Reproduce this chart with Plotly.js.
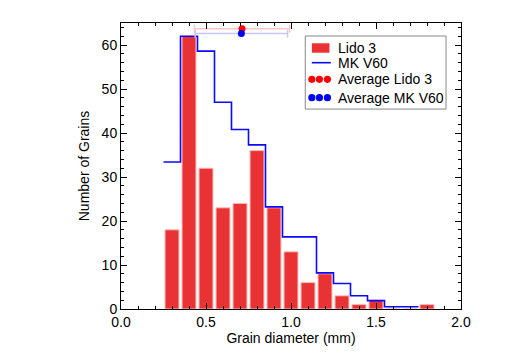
<!DOCTYPE html>
<html>
<head>
<meta charset="utf-8">
<script src="https://cdn.plot.ly/plotly-3.0.1.min.js"></script>
<style>html,body{margin:0;padding:0;background:#fff;}#chart{width:515px;height:359px;}</style>
</head>
<body>
<div id="chart"></div>
<script>
// Lido 3 histogram (bar centres, counts)
const lidoCenters = [0.3, 0.4, 0.5, 0.6, 0.7, 0.8, 0.9, 1.0, 1.1, 1.2, 1.3, 1.4, 1.5, 1.6, 1.7, 1.8];
const lidoCounts  = [18, 62, 32, 23, 24, 36, 23, 13, 6, 8, 3, 1, 2, 0, 0, 1];

// MK V60 step histogram (bin left edges, counts); last edge closes the step
const mkEdges  = [0.25, 0.35, 0.45, 0.55, 0.65, 0.75, 0.85, 0.95, 1.05, 1.15, 1.25, 1.35, 1.45, 1.55, 1.65, 1.75];
const mkCounts = [33.4, 62, 58.6, 47, 40.8, 37.3, 23.2, 16.4, 16.4, 8.2, 5.8, 3.0, 1.9, 0.5, 0.5, 0.5];

// Averages (mean diameter, plotted height, spread)
const avgLidoX = [0.712], avgLidoY = [63.7], avgLidoErr = [0.28];
const avgMkX   = [0.708], avgMkY   = [62.6], avgMkErr   = [0.272];

const xTickVals = [0, 0.5, 1.0, 1.5, 2.0];
const xTickText = ['0.0', '0.5', '1.0', '1.5', '2.0'];
const yTickVals = [0, 10, 20, 30, 40, 50, 60];

const legendNames = ['Lido 3', 'MK V60', 'Average Lido 3', 'Average MK V60'];

const RED_BAR = 'rgb(232,50,52)';
const BLUE_LINE = 'rgb(10,10,255)';
const RED_DOT = 'rgb(255,0,0)';
const BLUE_DOT = 'rgb(0,0,255)';

const font = {family: 'Liberation Sans, Arial, sans-serif', color: '#000'};

const traces = [
  {
    type: 'bar', name: legendNames[0], x: lidoCenters, y: lidoCounts, width: 0.082,
    marker: {color: RED_BAR, line: {color: 'rgb(255,185,185)', width: 1}}
  },
  {
    type: 'scatter', mode: 'lines', name: legendNames[1], x: mkEdges, y: mkCounts,
    line: {shape: 'hv', color: BLUE_LINE, width: 1.6}
  },
  {
    type: 'scatter', mode: 'markers', name: legendNames[2], x: avgLidoX, y: avgLidoY,
    marker: {color: RED_DOT, size: 7},
    error_x: {type: 'data', array: avgLidoErr, color: 'rgb(255,200,200)', thickness: 1.5, width: 4}
  },
  {
    type: 'scatter', mode: 'markers', name: legendNames[3], x: avgMkX, y: avgMkY,
    marker: {color: BLUE_DOT, size: 7},
    error_x: {type: 'data', array: avgMkErr, color: 'rgb(200,200,255)', thickness: 1.5, width: 4}
  }
];

// ---- custom legend (paper coordinates) ----
const legBox = {x0: 0.542, x1: 0.956, y0: 0.699, y1: 0.9545};
const rowY = [0.9126, 0.8612, 0.8031, 0.7388];
const symX0 = 0.5613, symX1 = 0.6171, textX = 0.6327;

const shapes = [
  {type: 'rect', xref: 'paper', yref: 'paper', x0: legBox.x0, x1: legBox.x1, y0: legBox.y0, y1: legBox.y1,
   line: {color: '#888', width: 1}, fillcolor: '#fff', layer: 'above'},
  {type: 'rect', xref: 'paper', yref: 'paper', x0: symX0, x1: 0.6131, y0: rowY[0] - 0.0165, y1: rowY[0] + 0.0165,
   line: {width: 0}, fillcolor: RED_BAR, layer: 'above'},
  {type: 'line', xref: 'paper', yref: 'paper', x0: symX0, x1: symX1, y0: rowY[1], y1: rowY[1],
   line: {color: BLUE_LINE, width: 1.6}, layer: 'above'}
];
const dotOffsets = [0.5613, 0.5836, 0.6071];
[[rowY[2], RED_DOT], [rowY[3], BLUE_DOT]].forEach(([yy, col]) => {
  dotOffsets.forEach(xx => {
    shapes.push({type: 'circle', xref: 'paper', yref: 'paper', xsizemode: 'pixel', ysizemode: 'pixel',
      xanchor: xx, yanchor: yy, x0: -3.6, x1: 3.6, y0: -3.6, y1: 3.6,
      line: {width: 0}, fillcolor: col, layer: 'above'});
  });
});
const annotations = legendNames.map((t, i) => ({
  xref: 'paper', yref: 'paper', x: textX, y: rowY[i], xanchor: 'left', yanchor: 'middle',
  text: t, showarrow: false, font: Object.assign({size: 14}, font)
}));

const axisCommon = {
  showline: true, linecolor: '#000', linewidth: 1, mirror: 'allticks',
  ticks: 'inside', ticklen: 6, tickcolor: '#000', tickwidth: 1,
  showgrid: false, zeroline: false,
  tickfont: Object.assign({size: 14}, font)
};

const layout = {
  width: 515, height: 359,
  margin: {l: 121, r: 54, t: 23, b: 50},
  paper_bgcolor: '#fff', plot_bgcolor: '#fff',
  font: font,
  bargap: 0,
  showlegend: false,
  shapes: shapes,
  annotations: annotations,
  xaxis: Object.assign({}, axisCommon, {
    range: [0, 2], tickvals: xTickVals, ticktext: xTickText,
    minor: {dtick: 0.1, ticks: 'inside', ticklen: 3, tickcolor: '#000', showgrid: false},
    title: {text: 'Grain diameter (mm)', font: Object.assign({size: 14}, font), standoff: 2}
  }),
  yaxis: Object.assign({}, axisCommon, {
    range: [0, 65], tickvals: yTickVals,
    minor: {dtick: 2, ticks: 'inside', ticklen: 3, tickcolor: '#000', showgrid: false},
    title: {text: 'Number of Grains', font: Object.assign({size: 14}, font), standoff: 8}
  })
};

Plotly.newPlot('chart', traces, layout, {displayModeBar: false, staticPlot: true});
</script>
</body>
</html>
